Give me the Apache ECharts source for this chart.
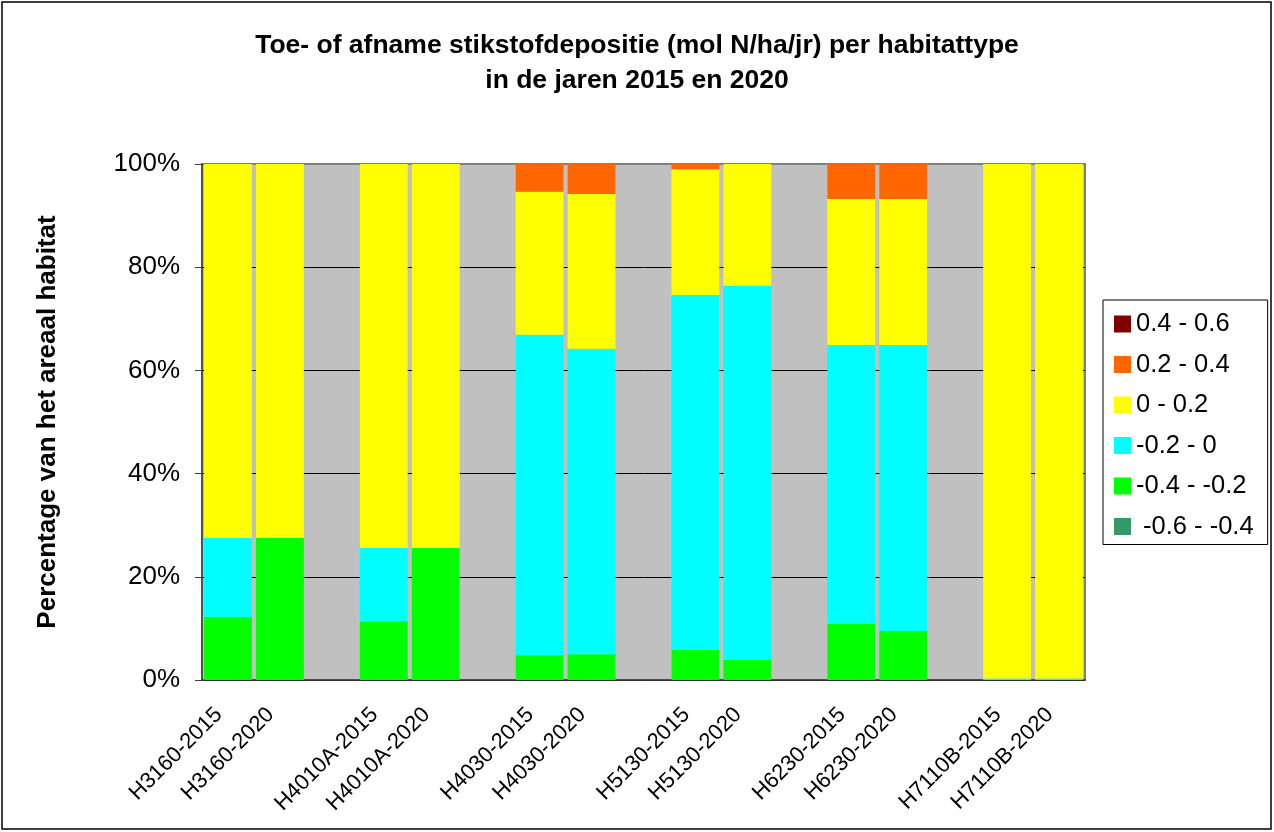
<!DOCTYPE html>
<html>
<head>
<meta charset="utf-8">
<script src="https://cdn.jsdelivr.net/npm/echarts@6/dist/echarts.min.js"></script>
<style>
    html, body { margin: 0; padding: 0; background: #fff; }
    #chart { width: 1274px; height: 832px; }
</style>
</head>
<body>
<div id="chart"></div>
<script>
    // categorieen, lege plekken zijn scheidingen tussen habitattypen
    var categories = ['H3160-2015', 'H3160-2020', '', 'H4010A-2015', 'H4010A-2020', '',
        'H4030-2015', 'H4030-2020', '', 'H5130-2015', 'H5130-2020', '',
        'H6230-2015', 'H6230-2020', '', 'H7110B-2015', 'H7110B-2020'];

    // percentages per klasse (van onder naar boven gestapeld)
    var klasMin06 = [0, 0, null, 0, 0, null, 0, 0, null, 0, 0, null, 0, 0, null, 0, 0];
    var klasMin04 = [12.2, 27.5, null, 11.4, 25.6, null, 4.8, 5.0, null, 5.8, 3.9, null, 10.9, 9.5, null, 0, 0];
    var klasMin02 = [15.3, 0, null, 14.2, 0, null, 62.1, 59.2, null, 68.8, 72.5, null, 54.0, 55.4, null, 0.3, 0.3];
    var klasPlus02 = [72.5, 72.5, null, 74.4, 74.4, null, 27.7, 30.0, null, 24.4, 23.6, null, 28.3, 28.3, null, 99.7, 99.7];
    var klasPlus04 = [0, 0, null, 0, 0, null, 5.4, 5.8, null, 1.0, 0, null, 6.8, 6.8, null, 0, 0];
    var klasPlus06 = [0, 0, null, 0, 0, null, 0, 0, null, 0, 0, null, 0, 0, null, 0, 0];

    var yTicks = [0, 20, 40, 60, 80, 100];

    var font = 'Liberation Sans, Arial, sans-serif';

    var chart = echarts.init(document.getElementById('chart'));

    function bar(name, color, data) {
        return {
            name: name,
            type: 'bar',
            stack: 'totaal',
            barCategoryGap: '8%',
            itemStyle: { color: color },
            data: data
        };
    }

    var option = {
        backgroundColor: '#fff',
        animation: false,
        textStyle: { fontFamily: font },
        title: {
            text: 'Toe- of afname stikstofdepositie (mol N/ha/jr) per habitattype\nin de jaren 2015 en 2020',
            left: 'center',
            top: 23,
            textStyle: {
                fontFamily: font,
                fontSize: 26.5,
                fontWeight: 'bold',
                color: '#000',
                lineHeight: 35
            }
        },
        legend: {
            orient: 'vertical',
            left: 1103,
            top: 300,
            padding: [11, 14, 5, 11],
            borderColor: '#000',
            borderWidth: 1,
            itemWidth: 17,
            itemHeight: 17,
            itemGap: 14.5,
            icon: 'rect',
            textStyle: { fontFamily: font, fontSize: 25.5, color: '#000', lineHeight: 26 },
            data: ['0.4 - 0.6', '0.2 - 0.4', '0 - 0.2', '-0.2 - 0', '-0.4 - -0.2', ' -0.6 - -0.4']
        },
        graphic: [{
            type: 'rect',
            shape: { x: 2, y: 2, width: 1269, height: 827 },
            style: { fill: 'none', stroke: '#000', lineWidth: 1.5 },
            silent: true
        }],
        grid: {
            left: 202,
            right: 189,
            top: 164,
            bottom: 152,
            show: true,
            backgroundColor: '#C0C0C0',
            borderColor: '#808080',
            borderWidth: 2,
            outerBoundsMode: 'none'
        },
        xAxis: {
            type: 'category',
            data: categories,
            axisLine: { lineStyle: { color: '#404040', width: 1.5 } },
            axisTick: { length: 6, lineStyle: { color: '#404040' } },
            axisLabel: {
                rotate: 45,
                interval: 0,
                margin: 22,
                padding: [0, 13, 0, 0],
                fontFamily: font,
                fontSize: 22,
                color: '#000'
            }
        },
        yAxis: {
            type: 'value',
            min: yTicks[0],
            max: yTicks[yTicks.length - 1],
            interval: 20,
            name: 'Percentage van het areaal habitat',
            nameLocation: 'middle',
            nameGap: 141,
            nameTextStyle: { fontFamily: font, fontSize: 26, fontWeight: 'bold', color: '#000' },
            axisLine: { show: true, lineStyle: { color: '#404040', width: 1.5 } },
            axisTick: { show: true, length: 7, lineStyle: { color: '#404040' } },
            axisLabel: {
                margin: 22,
                fontFamily: font,
                fontSize: 26,
                color: '#000',
                formatter: '{value}%'
            },
            splitLine: {
                show: true,
                lineStyle: { color: ['#000', '#000', '#000', '#000', '#000', '#808080'], width: 1 }
            }
        },
        series: [
            bar(' -0.6 - -0.4', '#339966', klasMin06),
            bar('-0.4 - -0.2', '#00FF00', klasMin04),
            bar('-0.2 - 0', '#00FFFF', klasMin02),
            bar('0 - 0.2', '#FFFF00', klasPlus02),
            bar('0.2 - 0.4', '#FF6600', klasPlus04),
            bar('0.4 - 0.6', '#800000', klasPlus06)
        ]
    };

    chart.setOption(option);
</script>
</body>
</html>
